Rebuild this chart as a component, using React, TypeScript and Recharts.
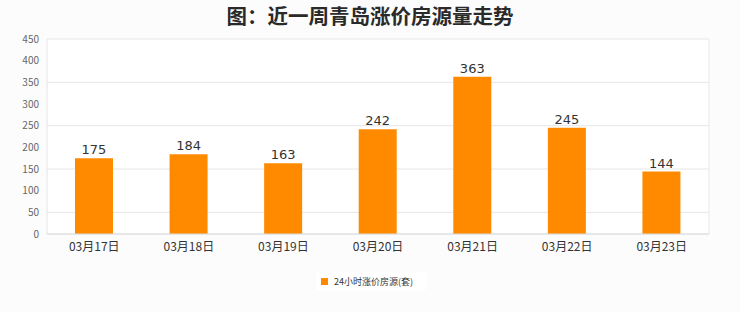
import React from "react";
import { BarChart, Bar, XAxis, YAxis, CartesianGrid, LabelList } from "recharts";

const categories = ["03月17日", "03月18日", "03月19日", "03月20日", "03月21日", "03月22日", "03月23日"];
const risingListings = [175, 184, 163, 242, 363, 245, 144];
const yTicks = [0, 50, 100, 150, 200, 250, 300, 350, 400, 450];

const seriesName = "24小时涨价房源(套)";
const barColor = "#ff8a00";

const data = categories.map((day, i) => ({ day, value: risingListings[i] }));

const App = () => {
  return (
    <div
      style={{
        position: "absolute",
        left: 0,
        top: 0,
        width: 740,
        height: 312,
        background: "#fcfcfc",
        fontFamily: "'Noto Sans CJK SC', 'Noto Sans', sans-serif",
      }}
    >
      {/* 标题 */}
      <div
        style={{
          position: "absolute",
          top: 0,
          left: 0,
          width: 740,
          textAlign: "center",
          fontSize: 20.5,
          fontWeight: "bold",
          color: "#2a2a2a",
          lineHeight: "30px",
        }}
      >
        图：近一周青岛涨价房源量走势
      </div>

      <div style={{ position: "absolute", left: 0, top: 0 }}>
        <BarChart
          width={740}
          height={312}
          data={data}
          margin={{ top: 39, right: 31, left: 0, bottom: 56 }}
        >
          <CartesianGrid
            fill="#ffffff"
            stroke="#e6e6e6"
            verticalPoints={[47, 709]}
          />
          <XAxis
            dataKey="day"
            height={22}
            tickLine={false}
            axisLine={{ stroke: "#dcdcdc" }}
            tick={{ fill: "#333", fontSize: 12 }}
            interval={0}
          />
          <YAxis
            width={47}
            domain={[0, 450]}
            ticks={yTicks}
            tickLine={false}
            axisLine={false}
            tick={{ fill: "#666", fontSize: 10 }}
          />
          <Bar dataKey="value" name={seriesName} fill={barColor} barSize={38} isAnimationActive={false}>
            <LabelList
              dataKey="value"
              position="top"
              fill="#333"
              fontSize={13}
              fontFamily="'DejaVu Sans', sans-serif"
              offset={4}
            />
          </Bar>
        </BarChart>
      </div>

      {/* 图例 */}
      <div
        style={{
          position: "absolute",
          left: 316,
          top: 272,
          width: 110,
          height: 18,
          background: "#fff",
          display: "flex",
          alignItems: "center",
          fontSize: 9,
          color: "#333",
        }}
      >
        <span
          style={{
            display: "inline-block",
            width: 7,
            height: 7,
            background: barColor,
            marginLeft: 5,
            marginRight: 6,
          }}
        />
        {seriesName}
      </div>
    </div>
  );
};

export default App;
